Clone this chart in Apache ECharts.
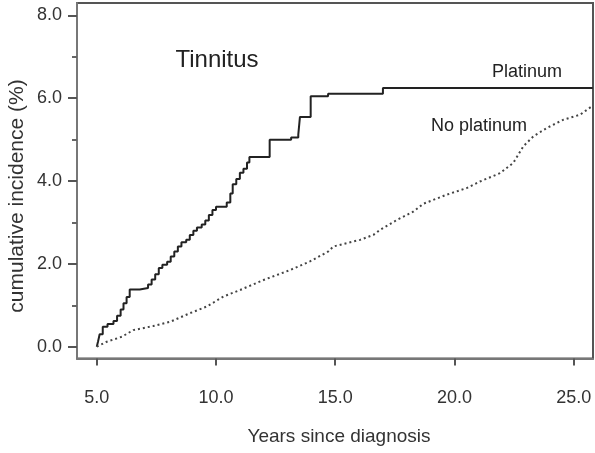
<!DOCTYPE html>
<html>
<head>
<meta charset="utf-8">
<script src="https://cdn.jsdelivr.net/npm/echarts@6/dist/echarts.min.js"></script>
<style>
html,body{margin:0;padding:0;background:#fff;}
#chart{width:595px;height:453px;}
</style>
</head>
<body>
<div id="chart"></div>
<script>
// Platinum: step function (time, cumulative incidence after jump)
const platinumYears = [5.0, 5.05, 5.12, 5.25, 5.45, 5.7, 5.85, 6.0, 6.12, 6.25, 6.38, 6.8, 7.15, 7.3, 7.45, 7.6, 7.75, 7.95, 8.1, 8.25, 8.4, 8.55, 8.75, 8.9, 9.05, 9.2, 9.4, 9.55, 9.7, 9.85, 10.0, 10.45, 10.6, 10.7, 10.85, 11.0, 11.15, 11.3, 11.4, 12.25, 13.15, 13.45, 13.52, 13.97, 14.7, 17.0, 25.8];
const platinumInc   = [0.0, 0.12, 0.3, 0.48, 0.55, 0.62, 0.75, 0.9, 1.05, 1.2, 1.38, 1.42, 1.5, 1.62, 1.75, 1.9, 1.98, 2.05, 2.18, 2.3, 2.42, 2.52, 2.58, 2.7, 2.8, 2.88, 2.95, 3.05, 3.18, 3.3, 3.38, 3.48, 3.7, 3.92, 4.05, 4.2, 4.3, 4.45, 4.58, 5.0, 5.05, 5.12, 5.55, 6.05, 6.11, 6.25, 6.25];
// No platinum: dotted curve
const noPlatYears = [5.0, 5.42, 6.05, 6.53, 7.37, 8.07, 8.91, 9.61, 10.31, 11.01, 11.99, 13.1, 13.94, 14.71, 14.92, 16.04, 16.6, 16.88, 17.58, 18.27, 18.69, 19.67, 20.51, 21.07, 21.91, 22.47, 22.89, 23.31, 23.87, 24.56, 25.26, 25.75];
const noPlatInc   = [0.0, 0.12, 0.24, 0.4, 0.5, 0.6, 0.81, 0.97, 1.21, 1.37, 1.61, 1.85, 2.06, 2.3, 2.42, 2.58, 2.7, 2.82, 3.06, 3.26, 3.45, 3.67, 3.83, 3.99, 4.19, 4.44, 4.84, 5.08, 5.28, 5.48, 5.6, 5.8];
const xTicks = [5, 10, 15, 20, 25];
const yTicks = [0, 2, 4, 6, 8];
const yMinorTicks = [1, 3, 5, 7];

const zip = (a, b) => a.map((v, i) => [v, b[i]]);
const FONT = 'Liberation Sans, Arial, Helvetica, sans-serif';
const chart = echarts.init(document.getElementById('chart'), null, {renderer: 'canvas'});
const yRange = {min: -0.285, max: 8.30};
chart.setOption({
  animation: false,
  backgroundColor: '#fff',
  grid: {left: 77, right: 2, top: 3, bottom: 94.5, show: true, borderColor: '#555', borderWidth: 2},
  xAxis: {
    type: 'value', min: 4.17, max: 25.81,
    axisLine: {show: true, onZero: false, lineStyle: {color: '#777', width: 2}},
    axisTick: {show: true, customValues: xTicks, length: 7, lineStyle: {color: '#555', width: 2}},
    axisLabel: {customValues: xTicks, formatter: v => v.toFixed(1), margin: 31, fontSize: 18, color: '#333', fontFamily: FONT},
    splitLine: {show: false}
  },
  yAxis: [{
    type: 'value', min: yRange.min, max: yRange.max,
    axisLine: {show: true, onZero: false, lineStyle: {color: '#777', width: 2}},
    axisTick: {show: true, customValues: yTicks, length: 9, lineStyle: {color: '#555', width: 2}},
    axisLabel: {customValues: yTicks, formatter: v => v.toFixed(1), margin: 15, fontSize: 18, color: '#333', fontFamily: FONT},
    splitLine: {show: false}
  }, {
    type: 'value', min: yRange.min, max: yRange.max, position: 'left',
    axisLine: {show: false},
    axisTick: {show: true, customValues: yMinorTicks, length: 5, lineStyle: {color: '#666', width: 2}},
    axisLabel: {show: false},
    splitLine: {show: false}
  }],
  graphic: [
    {type: 'text', x: 339, y: 437, style: {text: 'Years since diagnosis', font: '19px ' + FONT, fill: '#333', align: 'center', verticalAlign: 'middle'}},
    {type: 'text', x: 17, y: 196, rotation: Math.PI / 2, style: {text: 'cumulative incidence (%)', font: '21px ' + FONT, fill: '#333', align: 'center', verticalAlign: 'middle'}},
    {type: 'text', x: 217, y: 60, style: {text: 'Tinnitus', font: '24px ' + FONT, fill: '#222', align: 'center', verticalAlign: 'middle'}},
    {type: 'text', x: 527, y: 72, style: {text: 'Platinum', font: '18px ' + FONT, fill: '#222', align: 'center', verticalAlign: 'middle'}},
    {type: 'text', x: 479, y: 126, style: {text: 'No platinum', font: '18px ' + FONT, fill: '#222', align: 'center', verticalAlign: 'middle'}}
  ],
  series: [{
    name: 'Platinum', type: 'line', step: 'end', showSymbol: false, symbol: 'none',
    data: zip(platinumYears, platinumInc),
    lineStyle: {color: '#222', width: 2}
  }, {
    name: 'No platinum', type: 'line', showSymbol: false, symbol: 'none',
    data: zip(noPlatYears, noPlatInc),
    lineStyle: {color: '#444', width: 2, type: [2, 3]}
  }]
});
</script>
</body>
</html>
